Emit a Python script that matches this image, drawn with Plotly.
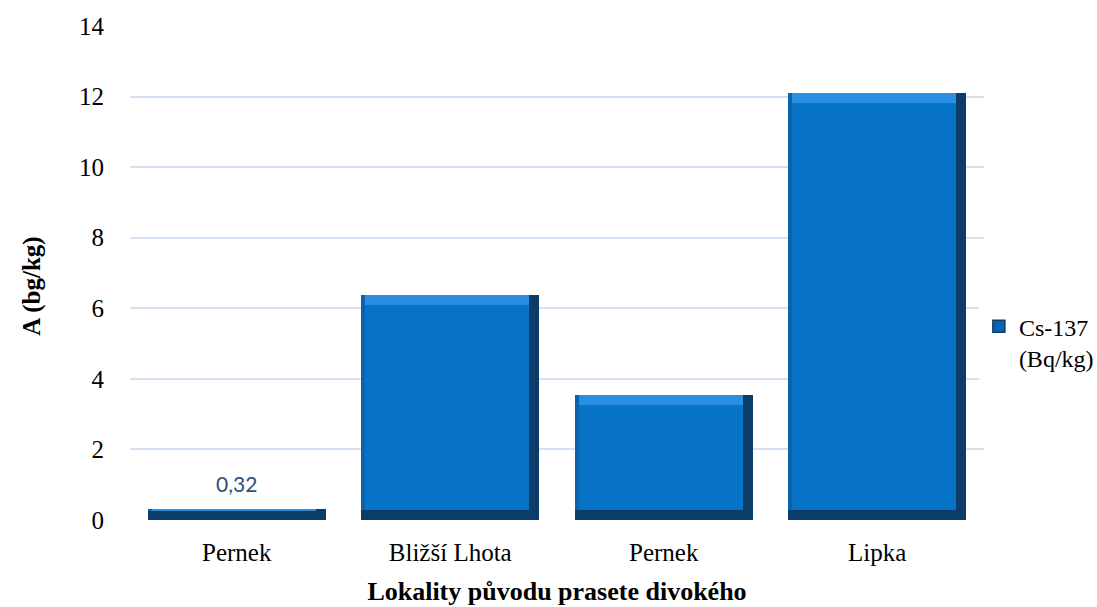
import plotly.graph_objects as go

# Data
lokality = ["Pernek", "Bližší Lhota", "Pernek", "Lipka"]
cs137 = [0.32, 6.38, 3.55, 12.1]
serie = "Cs-137<br>(Bq/kg)"
y_ticks = [0, 2, 4, 6, 8, 10, 12, 14]

x = list(range(len(lokality)))

SERIF = "Liberation Serif"

# bevel geometry (in axis units)
W = 0.834          # bar width
edge_r = 0.047     # dark right edge
edge_l = 0.019     # left edge
edge_v = 0.28      # top / bottom bevel height

DARK = "#0B3D68"
LEFT = "#0A63AE"
TOP = "#2A8FE2"
FACE = "#0673C6"

fig = go.Figure()

# dark base: right and bottom bevel
fig.add_trace(go.Bar(
    x=x, y=cs137, width=W, name=serie,
    marker=dict(color=DARK, line=dict(width=0)),
    showlegend=False, hoverinfo="skip",
))
# left bevel
fig.add_trace(go.Bar(
    x=[xi - edge_r / 2 for xi in x],
    y=[max(v - edge_v, 0) for v in cs137],
    base=[min(edge_v, v) for v in cs137],
    width=W - edge_r,
    marker=dict(color=LEFT, line=dict(width=0)),
    showlegend=False, hoverinfo="skip",
))
# light top bevel
fig.add_trace(go.Bar(
    x=[xi - edge_r / 2 + edge_l / 2 for xi in x],
    y=[min(edge_v, max(v - edge_v, 0)) for v in cs137],
    base=[max(v - edge_v, min(edge_v, v)) for v in cs137],
    width=W - edge_r - edge_l,
    marker=dict(color=TOP, line=dict(width=0)),
    showlegend=False, hoverinfo="skip",
))
# front face
fig.add_trace(go.Bar(
    x=[xi - edge_r / 2 + edge_l / 2 for xi in x],
    y=[max(v - 2 * edge_v, 0) for v in cs137],
    base=[edge_v for v in cs137],
    width=W - edge_r - edge_l,
    marker=dict(color=FACE, line=dict(width=0)),
    showlegend=False, hoverinfo="skip",
))
# legend entry
fig.add_trace(go.Bar(
    x=[None], y=[None], name=serie,
    marker=dict(color="#0A62AC", line=dict(color=DARK, width=1.5)),
    showlegend=True, hoverinfo="skip",
))

# value label on the first bar
fig.add_annotation(
    x=x[0], y=cs137[0],
    text=f"{cs137[0]:.2f}".replace(".", ","),
    showarrow=False, yanchor="bottom", yshift=11,
    font=dict(family="Lato", size=21, color="#2B4F7F"),
)

# y-axis title
fig.add_annotation(
    xref="paper", yref="paper", x=-0.115, y=0.474,
    text="<b>A (bg/kg)</b>", textangle=-90, showarrow=False,
    xanchor="center", yanchor="middle",
    font=dict(family=SERIF, size=25, color="black"),
)

fig.update_layout(
    width=1097, height=607,
    barmode="overlay",
    bargap=0,
    plot_bgcolor="white", paper_bgcolor="white",
    margin=dict(l=130, r=113, t=26, b=87, autoexpand=False),
    font=dict(family=SERIF, size=25, color="black"),
    legend=dict(
        x=0.994, xanchor="left", y=0.36, yanchor="middle",
        valign="top", font=dict(family=SERIF, size=24, color="black"),
        itemwidth=30, tracegroupgap=0,
    ),
    xaxis=dict(
        range=[-0.5, 3.5],
        tickmode="array", tickvals=x, ticktext=lokality,
        tickfont=dict(family=SERIF, size=25, color="black"),
        showgrid=False, zeroline=False, showline=False,
        ticks="outside", ticklen=10, tickcolor="rgba(0,0,0,0)",
        title=dict(text="<b>Lokality původu prasete divokého</b>",
                   font=dict(family=SERIF, size=26, color="black"), standoff=16),
    ),
    yaxis=dict(
        range=[0, 14],
        tickmode="array", tickvals=y_ticks,
        tickfont=dict(family=SERIF, size=25, color="black"),
        showgrid=True, gridcolor="#D5E2F3", gridwidth=1.5,
        zeroline=False, showline=False,
        ticks="outside", ticklen=20, tickcolor="rgba(0,0,0,0)",
    ),
)

fig.write_html("out.html")
